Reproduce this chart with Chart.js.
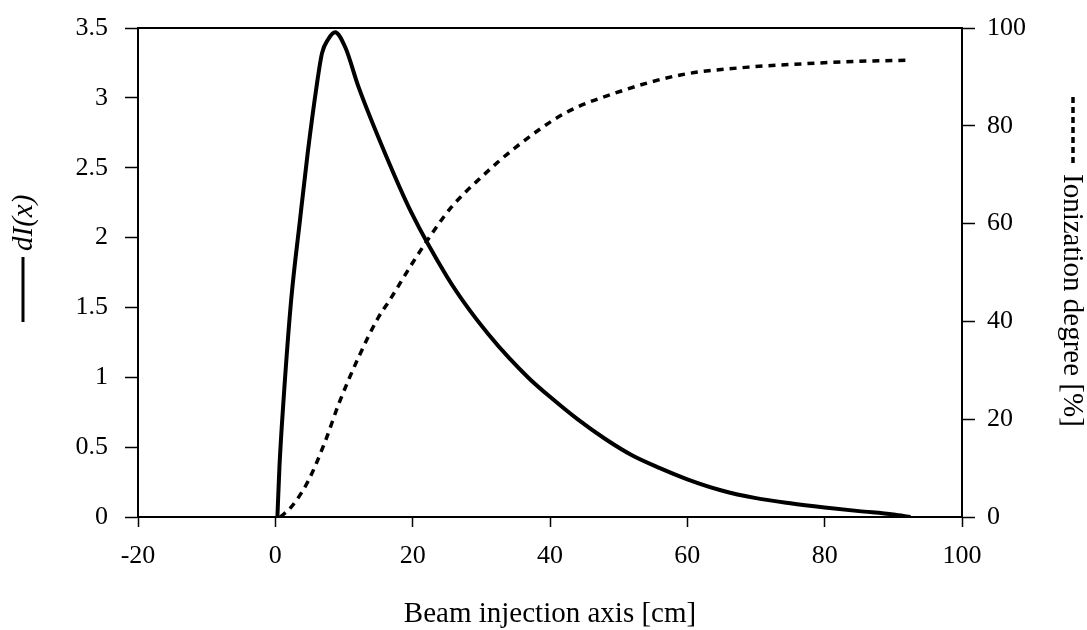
<!DOCTYPE html>
<html>
<head>
<meta charset="utf-8">
<title>dI(x) and ionization degree</title>
<script src="https://cdn.jsdelivr.net/npm/chart.js@4.4.1/dist/chart.umd.min.js"></script>
<style>
    html, body { margin: 0; padding: 0; background: #fff; }
    #wrap { width: 1087px; height: 630px; position: relative; }
</style>
</head>
<body>
<div id="wrap"><canvas id="beamChart"></canvas></div>
<script>
// dI(x) along the beam axis (left axis)
const dIx = [0.3, 0.6, 1.2, 2.3, 3.6, 4.7, 6.0, 6.8, 7.7, 8.7, 10.2, 12.1, 16, 19.8, 25, 28, 31, 34, 37, 40, 44, 48, 52, 56, 60, 65, 70, 75, 80, 85, 90, 92.5];
const dIy = [0, 0.36, 0.84, 1.55, 2.13, 2.6, 3.08, 3.32, 3.42, 3.47, 3.36, 3.08, 2.6, 2.18, 1.72, 1.50, 1.31, 1.14, 0.99, 0.86, 0.70, 0.56, 0.44, 0.35, 0.27, 0.19, 0.135, 0.098, 0.068, 0.042, 0.018, 0];

// ionization degree in percent (right axis)
const ionX = [0.7, 2.3, 4.8, 7.3, 9.2, 12.1, 15, 16.5, 20, 22, 25.6, 30, 35, 42.2, 49.5, 59, 68.9, 78.6, 85, 92.2];
const ionY = [0, 2, 7.4, 15.6, 23, 32.6, 40.8, 44, 52, 56.3, 63.3, 69.5, 75.6, 82.6, 86.7, 90.4, 92, 92.8, 93.2, 93.4];

const xTicks = [-20, 0, 20, 40, 60, 80, 100];
const leftTicks = [0, 0.5, 1, 1.5, 2, 2.5, 3, 3.5];
const rightTicks = [0, 20, 40, 60, 80, 100];

const serif = '"Liberation Serif", "Times New Roman", serif';
Chart.defaults.font.family = serif;
Chart.defaults.color = '#000';

function toPoints(xs, ys) {
    return xs.map((x, i) => ({ x: x, y: ys[i] }));
}

function fixedTicks(list) {
    return function(scale) {
        scale.ticks = list.map(v => ({ value: v }));
    };
}

// fixed width for a vertical axis, without the extra room for half labels
function fixedWidth(w) {
    return function(scale) {
        scale.width = w;
        scale.paddingTop = 0;
        scale.paddingBottom = 0;
    };
}

// frame around the plot plus the axis titles with their line samples
const frameAndTitles = {
    id: 'frameAndTitles',
    afterDraw(chart) {
        const ctx = chart.ctx;
        const a = chart.chartArea;
        ctx.save();
        ctx.strokeStyle = '#000';
        ctx.fillStyle = '#000';
        ctx.lineWidth = 2;
        ctx.strokeRect(a.left, a.top, a.right - a.left, a.bottom - a.top);

        // left title: solid sample then dI(x), reading upwards
        ctx.save();
        ctx.translate(23, 322);
        ctx.rotate(-Math.PI / 2);
        ctx.lineWidth = 3;
        ctx.beginPath();
        ctx.moveTo(0, 0);
        ctx.lineTo(65, 0);
        ctx.stroke();
        ctx.font = 'italic 29px ' + serif;
        ctx.textBaseline = 'middle';
        ctx.textAlign = 'left';
        ctx.fillText('dI(x)', 71, 1);
        ctx.restore();

        // right title: dashed sample then text, reading downwards
        ctx.save();
        ctx.translate(1073, 97);
        ctx.rotate(Math.PI / 2);
        ctx.lineWidth = 3.5;
        ctx.setLineDash([6, 4]);
        ctx.beginPath();
        ctx.moveTo(0, 0);
        ctx.lineTo(68, 0);
        ctx.stroke();
        ctx.setLineDash([]);
        ctx.font = '29px ' + serif;
        ctx.textBaseline = 'middle';
        ctx.textAlign = 'left';
        ctx.fillText('Ionization degree [%]', 77, 1);
        ctx.restore();

        // bottom title
        ctx.font = '29px ' + serif;
        ctx.textAlign = 'center';
        ctx.textBaseline = 'alphabetic';
        ctx.fillText('Beam injection axis [cm]', (a.left + a.right) / 2, 622);
        ctx.restore();
    }
};

const ctx = document.getElementById('beamChart').getContext('2d');
new Chart(ctx, {
    type: 'line',
    data: {
        datasets: [{
            label: 'dI(x)',
            data: toPoints(dIx, dIy),
            yAxisID: 'y',
            borderColor: '#000',
            borderWidth: 4,
            pointRadius: 0,
            cubicInterpolationMode: 'monotone',
            fill: false
        }, {
            label: 'Ionization degree [%]',
            data: toPoints(ionX, ionY),
            yAxisID: 'y1',
            borderColor: '#000',
            borderWidth: 3.5,
            borderDash: [7, 6],
            pointRadius: 0,
            cubicInterpolationMode: 'monotone',
            fill: false
        }]
    },
    options: {
        responsive: true,
        maintainAspectRatio: false,
        animation: false,
        layout: { padding: { top: 28, left: 0, right: 0, bottom: 0 } },
        plugins: {
            legend: { display: false },
            tooltip: { enabled: false }
        },
        scales: {
            x: {
                type: 'linear',
                min: -20,
                max: 100,
                afterBuildTicks: fixedTicks(xTicks),
                afterFit(scale) { scale.height = 113; },
                grid: { drawOnChartArea: false, drawTicks: true, tickLength: 10, tickWidth: 1.5, tickColor: '#000' },
                border: { display: true, color: '#000', width: 2 },
                ticks: { padding: 14, font: { size: 26 }, color: '#000', callback: v => String(v) }
            },
            y: {
                type: 'linear',
                position: 'left',
                min: 0,
                max: 3.5,
                afterBuildTicks: fixedTicks(leftTicks),
                afterFit: fixedWidth(138),
                grid: { drawOnChartArea: false, drawTicks: true, tickLength: 13, tickWidth: 1.5, tickColor: '#000' },
                border: { display: true, color: '#000', width: 2 },
                ticks: { padding: 17, font: { size: 26 }, color: '#000', callback: v => String(v) }
            },
            y1: {
                type: 'linear',
                position: 'right',
                min: 0,
                max: 100,
                afterBuildTicks: fixedTicks(rightTicks),
                afterFit: fixedWidth(125),
                grid: { drawOnChartArea: false, drawTicks: true, tickLength: 13, tickWidth: 1.5, tickColor: '#000' },
                border: { display: true, color: '#000', width: 2 },
                ticks: { padding: 12, font: { size: 26 }, color: '#000', callback: v => String(v) }
            }
        }
    },
    plugins: [frameAndTitles]
});
</script>
</body>
</html>
